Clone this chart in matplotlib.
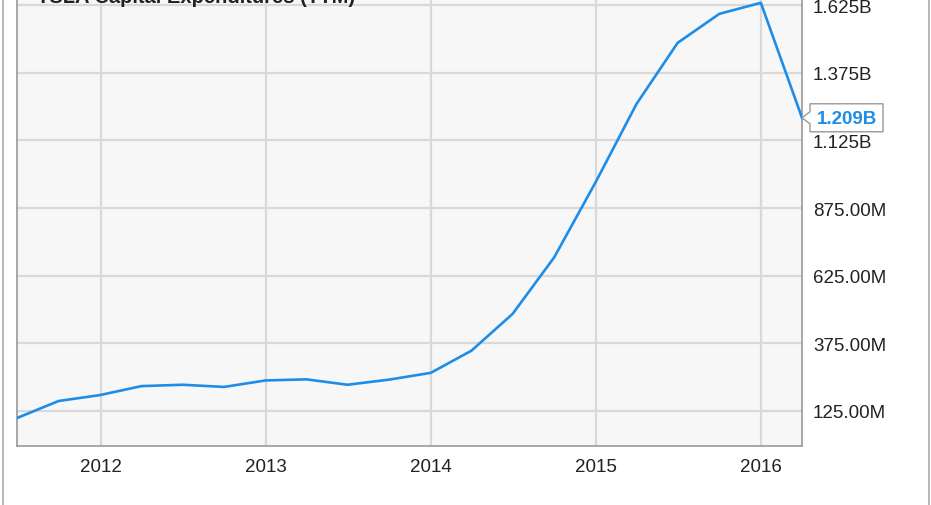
import matplotlib.pyplot as plt
import matplotlib.dates as mdates
import matplotlib.lines as mlines
from matplotlib.patches import Polygon
from matplotlib.transforms import IdentityTransform
import pandas as pd

# TSLA capital expenditures (TTM), quarterly, in millions
quarters = pd.date_range("2011-06-30", "2016-03-31", freq="QE")
capex = [99, 162, 184, 217, 222, 214, 238, 242, 222, 241,
         266, 348, 484, 693, 972, 1260, 1486, 1593, 1634, 1209]

ytick_vals = [125, 375, 625, 875, 1125, 1375, 1625]
ytick_labels = ["125.00M", "375.00M", "625.00M", "875.00M", "1.125B", "1.375B", "1.625B"]
year_ticks = pd.to_datetime(["2012-01-01", "2013-01-01", "2014-01-01", "2015-01-01", "2016-01-01"])
last_label = "1.209B"

plt.rcParams['font.family'] = ['Liberation Sans', 'DejaVu Sans']

W, H = 931, 506
fig = plt.figure(figsize=(W / 100, H / 100), dpi=100)
ax = fig.add_axes([17 / W, 59 / H, 785 / W, 467 / H])

line_color = "#1e8de8"
ax.set_facecolor("#f7f7f7")
ax.plot(quarters, capex, color=line_color, linewidth=1.9, solid_joinstyle="round", zorder=3)

ax.set_xlim(quarters[0], quarters[-1])
ax.set_ylim(-4.4, 1722)

ax.set_xticks(year_ticks)
ax.xaxis.set_major_formatter(mdates.DateFormatter("%Y"))
ax.set_yticks(ytick_vals)
ax.set_yticklabels(ytick_labels)
ax.yaxis.tick_right()
ax.tick_params(axis="both", length=0, labelsize=13.5, colors="#222222")
ax.tick_params(axis="y", pad=8)
ax.tick_params(axis="x", pad=9)

ax.grid(True, color="#d9d9d9", linewidth=1.6)
ax.set_axisbelow(True)
for side in ["left", "bottom", "right"]:
    ax.spines[side].set_color("#999999")
    ax.spines[side].set_linewidth(1.2)
ax.spines["top"].set_visible(False)

# title, cut off by the top edge of the picture
fig.text(37 / W, 1 - 3 / H, "TSLA Capital Expenditures (TTM)", fontsize=14.5,
         fontweight="bold", color="#222222", ha="left", va="baseline")

# outer frame lines
fig.add_artist(mlines.Line2D([2.5 / W, 2.5 / W], [0, 1], color="#aaaaaa", linewidth=1.2))
fig.add_artist(mlines.Line2D([928.5 / W, 928.5 / W], [0, 1], color="#aaaaaa", linewidth=1.2))

# callout for the last value
fig.canvas.draw()
px, py = ax.transData.transform((mdates.date2num(quarters[-1]), capex[-1]))
shape = [(px, py), (px + 8, py + 6), (px + 8, py + 14), (px + 81, py + 14),
         (px + 81, py - 14), (px + 8, py - 14), (px + 8, py - 6)]
fig.add_artist(Polygon(shape, closed=True, transform=IdentityTransform(),
                       facecolor="white", edgecolor="#999999", linewidth=1.0, zorder=5))
fig.text((px + 45) / W, (py - 1) / H, last_label, fontsize=13.5, fontweight="bold",
         color=line_color, ha="center", va="center", zorder=6)

fig.savefig("out.png", dpi=100)
